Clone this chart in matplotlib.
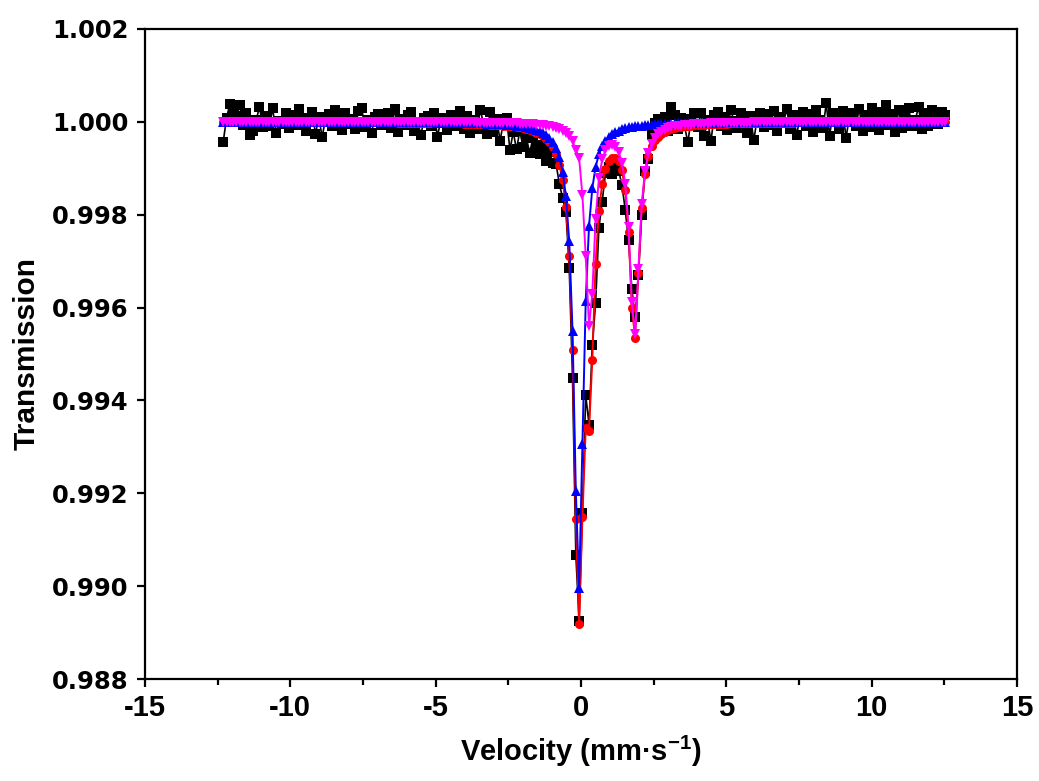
import numpy as np
import matplotlib
matplotlib.use("Agg")
import matplotlib.pyplot as plt
from matplotlib.ticker import MultipleLocator, FormatStrFormatter

# velocity channels (mm/s)
velocity = np.linspace(-12.31, 12.52, 220)

# measured spectrum (black squares)
transmission_exp = [
    0.99957, 1.00008, 1.00038, 1.00026, 1.00012, 1.00036, 0.99994, 1.00018, 0.99972, 0.99980,
    1.00003, 1.00033, 0.99989, 1.00013, 0.99991, 1.00029, 0.99977, 1.00001, 0.99995, 1.00019,
    0.99987, 1.00015, 0.99993, 1.00027, 1.00009, 0.99981, 1.00001, 1.00021, 0.99973, 1.00011,
    0.99967, 1.00005, 1.00017, 0.99991, 1.00025, 1.00013, 0.99983, 1.00019, 0.99995, 1.00007,
    0.99985, 1.00023, 1.00029, 0.99989, 1.00005, 0.99975, 1.00011, 1.00017, 0.99993, 1.00003,
    1.00019, 0.99987, 1.00027, 0.99978, 1.00006, 0.99994, 1.00014, 1.00022, 0.99980, 1.00000,
    0.99972, 1.00008, 1.00012, 0.99990, 1.00020, 0.99968, 1.00003, 1.00009, 0.99983, 1.00015,
    0.99991, 1.00001, 1.00023, 0.99984, 1.00012, 0.99976, 1.00004, 0.99985, 1.00025, 0.99997,
    0.99973, 1.00022, 0.99978, 1.00007, 0.99959, 0.99998, 1.00009, 0.99939, 0.99978, 0.99941,
    0.99980, 0.99946, 0.99965, 0.99933, 0.99966, 0.99951, 0.99930, 0.99951, 0.99915, 0.99934,
    0.99911, 0.99910, 0.99866, 0.99836, 0.99806, 0.99685, 0.99448, 0.99068, 0.98925, 0.99158,
    0.99412, 0.99348, 0.99520, 0.99609, 0.99771, 0.99828, 0.99890, 0.99902, 0.99888, 0.99905,
    0.99895, 0.99864, 0.99810, 0.99745, 0.99640, 0.99580, 0.99670, 0.99800, 0.99895, 0.99920,
    0.99971, 0.99998, 1.00007, 0.99988, 1.00010, 0.99980, 1.00032, 1.00014, 0.99984, 1.00008,
    0.99990, 0.99956, 1.00006, 1.00018, 0.99988, 1.00020, 0.99970, 1.00004, 0.99958, 1.00014,
    1.00022, 0.99992, 1.00010, 0.99982, 1.00026, 1.00002, 0.99986, 1.00018, 1.00008, 0.99976,
    1.00012, 0.99960, 1.00006, 1.00020, 0.99988, 1.00016, 0.99994, 1.00024, 0.99980, 1.00010,
    0.99998, 1.00028, 0.99984, 1.00014, 0.99972, 1.00008, 1.00022, 0.99990, 1.00016, 0.99978,
    1.00026, 1.00004, 0.99986, 1.00040, 0.99970, 1.00018, 1.00006, 0.99984, 1.00024, 0.99966,
    1.00010, 1.00020, 0.99992, 1.00028, 0.99980, 1.00014, 0.99988, 1.00030, 1.00008, 0.99982,
    1.00022, 1.00036, 0.99994, 1.00016, 0.99978, 1.00026, 0.99986, 1.00012, 1.00030, 0.99990,
    1.00004, 1.00032, 0.99984, 1.00020, 0.99992, 1.00026, 1.00010, 0.99996, 1.00022, 1.00014,
]

# total fit (red circles)
fit_total = [
    1.00000, 1.00000, 1.00000, 1.00000, 1.00000, 1.00000, 1.00000, 1.00000, 1.00000, 1.00000,
    0.99999, 0.99999, 0.99999, 0.99999, 0.99999, 0.99999, 0.99999, 0.99999, 0.99999, 0.99999,
    0.99999, 0.99999, 0.99999, 0.99999, 0.99999, 0.99999, 0.99999, 0.99999, 0.99999, 0.99999,
    0.99999, 0.99999, 0.99999, 0.99999, 0.99999, 0.99999, 0.99999, 0.99999, 0.99999, 0.99999,
    0.99999, 0.99999, 0.99999, 0.99999, 0.99999, 0.99999, 0.99999, 0.99999, 0.99999, 0.99999,
    0.99999, 0.99999, 0.99999, 0.99998, 0.99998, 0.99998, 0.99998, 0.99998, 0.99998, 0.99998,
    0.99998, 0.99998, 0.99998, 0.99998, 0.99998, 0.99998, 0.99997, 0.99997, 0.99997, 0.99997,
    0.99997, 0.99997, 0.99997, 0.99996, 0.99996, 0.99996, 0.99996, 0.99995, 0.99995, 0.99995,
    0.99995, 0.99994, 0.99994, 0.99993, 0.99993, 0.99992, 0.99991, 0.99991, 0.99990, 0.99989,
    0.99988, 0.99986, 0.99985, 0.99983, 0.99980, 0.99977, 0.99974, 0.99969, 0.99963, 0.99956,
    0.99945, 0.99930, 0.99908, 0.99874, 0.99817, 0.99712, 0.99508, 0.99144, 0.98918, 0.99149,
    0.99340, 0.99335, 0.99487, 0.99694, 0.99808, 0.99866, 0.99898, 0.99915, 0.99923, 0.99923,
    0.99916, 0.99896, 0.99853, 0.99762, 0.99600, 0.99535, 0.99675, 0.99815, 0.99888, 0.99926,
    0.99947, 0.99960, 0.99968, 0.99974, 0.99979, 0.99982, 0.99984, 0.99986, 0.99988, 0.99989,
    0.99990, 0.99991, 0.99992, 0.99993, 0.99993, 0.99994, 0.99994, 0.99995, 0.99995, 0.99995,
    0.99996, 0.99996, 0.99996, 0.99996, 0.99997, 0.99997, 0.99997, 0.99997, 0.99997, 0.99997,
    0.99997, 0.99998, 0.99998, 0.99998, 0.99998, 0.99998, 0.99998, 0.99998, 0.99998, 0.99998,
    0.99998, 0.99998, 0.99998, 0.99998, 0.99999, 0.99999, 0.99999, 0.99999, 0.99999, 0.99999,
    0.99999, 0.99999, 0.99999, 0.99999, 0.99999, 0.99999, 0.99999, 0.99999, 0.99999, 0.99999,
    0.99999, 0.99999, 0.99999, 0.99999, 0.99999, 0.99999, 0.99999, 0.99999, 0.99999, 0.99999,
    0.99999, 0.99999, 0.99999, 0.99999, 0.99999, 0.99999, 0.99999, 0.99999, 0.99999, 0.99999,
    0.99999, 0.99999, 0.99999, 0.99999, 0.99999, 0.99999, 0.99999, 0.99999, 0.99999, 1.00000,
]

# singlet component (blue up-triangles)
fit_singlet = [
    1.00000, 1.00000, 1.00000, 1.00000, 1.00000, 1.00000, 1.00000, 1.00000, 1.00000, 1.00000,
    1.00000, 1.00000, 1.00000, 1.00000, 1.00000, 1.00000, 1.00000, 1.00000, 1.00000, 1.00000,
    1.00000, 1.00000, 1.00000, 1.00000, 1.00000, 1.00000, 1.00000, 1.00000, 1.00000, 1.00000,
    1.00000, 1.00000, 1.00000, 0.99999, 0.99999, 0.99999, 0.99999, 0.99999, 0.99999, 0.99999,
    0.99999, 0.99999, 0.99999, 0.99999, 0.99999, 0.99999, 0.99999, 0.99999, 0.99999, 0.99999,
    0.99999, 0.99999, 0.99999, 0.99999, 0.99999, 0.99999, 0.99999, 0.99999, 0.99999, 0.99999,
    0.99999, 0.99999, 0.99999, 0.99999, 0.99999, 0.99998, 0.99998, 0.99998, 0.99998, 0.99998,
    0.99998, 0.99998, 0.99998, 0.99998, 0.99998, 0.99997, 0.99997, 0.99997, 0.99997, 0.99997,
    0.99996, 0.99996, 0.99996, 0.99995, 0.99995, 0.99995, 0.99994, 0.99993, 0.99993, 0.99992,
    0.99991, 0.99990, 0.99989, 0.99987, 0.99985, 0.99983, 0.99980, 0.99977, 0.99972, 0.99965,
    0.99956, 0.99943, 0.99924, 0.99893, 0.99840, 0.99743, 0.99550, 0.99204, 0.98996, 0.99306,
    0.99614, 0.99775, 0.99857, 0.99903, 0.99930, 0.99947, 0.99959, 0.99967, 0.99973, 0.99978,
    0.99981, 0.99984, 0.99986, 0.99988, 0.99989, 0.99990, 0.99991, 0.99992, 0.99993, 0.99994,
    0.99994, 0.99995, 0.99995, 0.99996, 0.99996, 0.99996, 0.99996, 0.99997, 0.99997, 0.99997,
    0.99997, 0.99997, 0.99998, 0.99998, 0.99998, 0.99998, 0.99998, 0.99998, 0.99998, 0.99998,
    0.99998, 0.99998, 0.99999, 0.99999, 0.99999, 0.99999, 0.99999, 0.99999, 0.99999, 0.99999,
    0.99999, 0.99999, 0.99999, 0.99999, 0.99999, 0.99999, 0.99999, 0.99999, 0.99999, 0.99999,
    0.99999, 0.99999, 0.99999, 0.99999, 0.99999, 0.99999, 0.99999, 0.99999, 0.99999, 0.99999,
    0.99999, 0.99999, 0.99999, 0.99999, 1.00000, 1.00000, 1.00000, 1.00000, 1.00000, 1.00000,
    1.00000, 1.00000, 1.00000, 1.00000, 1.00000, 1.00000, 1.00000, 1.00000, 1.00000, 1.00000,
    1.00000, 1.00000, 1.00000, 1.00000, 1.00000, 1.00000, 1.00000, 1.00000, 1.00000, 1.00000,
    1.00000, 1.00000, 1.00000, 1.00000, 1.00000, 1.00000, 1.00000, 1.00000, 1.00000, 1.00000,
]

# doublet component (magenta down-triangles)
fit_doublet = [
    1.00000, 1.00000, 1.00000, 1.00000, 1.00000, 1.00000, 1.00000, 1.00000, 1.00000, 1.00000,
    1.00000, 1.00000, 1.00000, 1.00000, 1.00000, 1.00000, 1.00000, 1.00000, 1.00000, 1.00000,
    1.00000, 1.00000, 1.00000, 1.00000, 1.00000, 1.00000, 1.00000, 1.00000, 1.00000, 1.00000,
    1.00000, 1.00000, 1.00000, 1.00000, 1.00000, 1.00000, 1.00000, 1.00000, 1.00000, 1.00000,
    1.00000, 1.00000, 1.00000, 1.00000, 1.00000, 1.00000, 1.00000, 1.00000, 0.99999, 0.99999,
    0.99999, 0.99999, 0.99999, 0.99999, 0.99999, 0.99999, 0.99999, 0.99999, 0.99999, 0.99999,
    0.99999, 0.99999, 0.99999, 0.99999, 0.99999, 0.99999, 0.99999, 0.99999, 0.99999, 0.99999,
    0.99999, 0.99999, 0.99999, 0.99999, 0.99999, 0.99999, 0.99999, 0.99998, 0.99998, 0.99998,
    0.99998, 0.99998, 0.99998, 0.99998, 0.99998, 0.99998, 0.99997, 0.99997, 0.99997, 0.99997,
    0.99996, 0.99996, 0.99996, 0.99995, 0.99995, 0.99994, 0.99994, 0.99993, 0.99992, 0.99991,
    0.99989, 0.99987, 0.99985, 0.99981, 0.99976, 0.99969, 0.99958, 0.99940, 0.99922, 0.99842,
    0.99711, 0.99560, 0.99630, 0.99791, 0.99878, 0.99919, 0.99939, 0.99948, 0.99950, 0.99946,
    0.99935, 0.99912, 0.99867, 0.99774, 0.99611, 0.99544, 0.99684, 0.99823, 0.99895, 0.99932,
    0.99953, 0.99965, 0.99973, 0.99979, 0.99983, 0.99986, 0.99988, 0.99990, 0.99991, 0.99992,
    0.99993, 0.99994, 0.99994, 0.99995, 0.99995, 0.99996, 0.99996, 0.99996, 0.99997, 0.99997,
    0.99997, 0.99997, 0.99998, 0.99998, 0.99998, 0.99998, 0.99998, 0.99998, 0.99998, 0.99998,
    0.99998, 0.99999, 0.99999, 0.99999, 0.99999, 0.99999, 0.99999, 0.99999, 0.99999, 0.99999,
    0.99999, 0.99999, 0.99999, 0.99999, 0.99999, 0.99999, 0.99999, 0.99999, 0.99999, 0.99999,
    0.99999, 0.99999, 0.99999, 0.99999, 0.99999, 0.99999, 1.00000, 1.00000, 1.00000, 1.00000,
    1.00000, 1.00000, 1.00000, 1.00000, 1.00000, 1.00000, 1.00000, 1.00000, 1.00000, 1.00000,
    1.00000, 1.00000, 1.00000, 1.00000, 1.00000, 1.00000, 1.00000, 1.00000, 1.00000, 1.00000,
    1.00000, 1.00000, 1.00000, 1.00000, 1.00000, 1.00000, 1.00000, 1.00000, 1.00000, 1.00000,
]

plt.rcParams['font.family'] = ['Liberation Sans', 'DejaVu Sans']
plt.rcParams['font.weight'] = 'bold'
plt.rcParams['axes.unicode_minus'] = False
plt.rcParams['mathtext.fontset'] = 'custom'
plt.rcParams['mathtext.rm'] = 'Liberation Sans:bold'
plt.rcParams['mathtext.default'] = 'rm'

fig = plt.figure(figsize=(10.39, 7.81), dpi=100)
ax = fig.add_axes([0.1396, 0.1306, 0.8392, 0.8323])

# ordem: dados, ajuste total, singleto, dubleto
ax.plot(velocity, transmission_exp, '-s', color='black', ms=6.5, lw=1.2, mew=0)
ax.plot(velocity, fit_total, '-o', color='#ff0000', ms=6.5, lw=1.4, mew=0)
ax.plot(velocity, fit_singlet, '-^', color='#0000ff', ms=7, lw=1.4, mew=0)
ax.plot(velocity, fit_doublet, '-v', color='#ff00ff', ms=7, lw=1.4, mew=0)

ax.set_xlim(-15, 15)
ax.set_ylim(0.988, 1.002)
ax.xaxis.set_major_locator(MultipleLocator(5))
ax.xaxis.set_minor_locator(MultipleLocator(2.5))
ax.yaxis.set_major_locator(MultipleLocator(0.002))
ax.yaxis.set_major_formatter(FormatStrFormatter('%.3f'))

for sp in ax.spines.values():
    sp.set_linewidth(1.6)
ax.tick_params(axis='both', which='major', direction='out', length=6, width=1.6)
ax.tick_params(axis='x', which='minor', direction='out', length=4, width=1.6)
ax.tick_params(axis='y', which='minor', left=False)
ax.tick_params(axis='y', labelsize=17.5, pad=6)
ax.tick_params(axis='x', labelsize=21, pad=5)
for lab in ax.get_yticklabels():
    lab.set_fontfamily('DejaVu Sans')
    lab.set_fontweight('bold')

ax.set_xlabel('Velocity (mm·s$^{-1}$)', fontsize=21, fontweight='bold', labelpad=8)
ax.set_ylabel('Transmission', fontsize=21.5, fontweight='bold', labelpad=8)

fig.savefig('out.png', dpi=100)
